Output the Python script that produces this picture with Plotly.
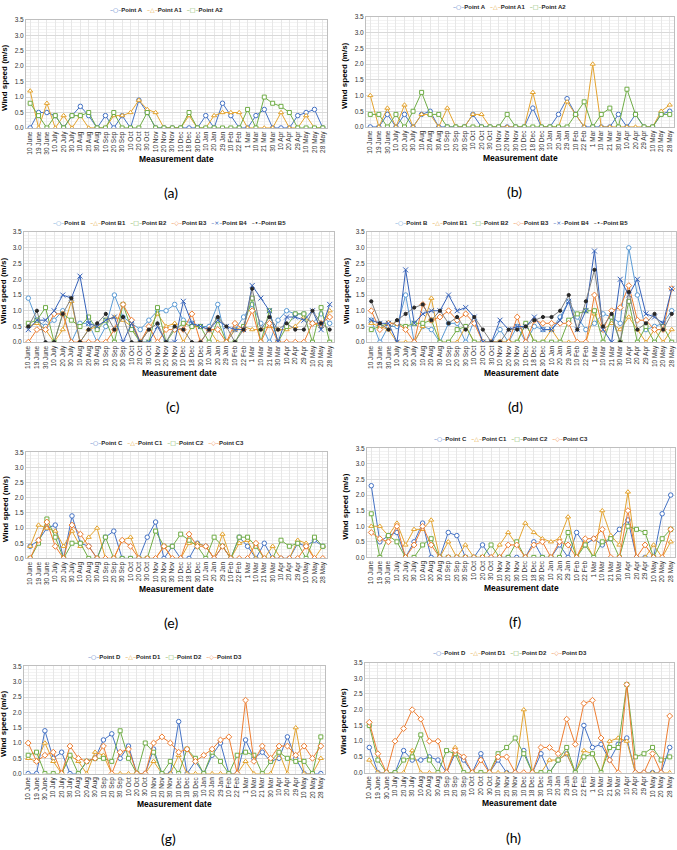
import plotly.graph_objects as go

W, H = 677, 850

dates = ["10 June", "19 June", "30 June", "10 July", "20 July", "30 July", "10 Aug", "20 Aug",
         "30 Aug", "10 Sep", "20 Sep", "30 Sep", "10 Oct", "20 Oct", "30 Oct", "10 Nov",
         "20 Nov", "30 Nov", "10 Dec", "18 Dec", "30 Dec", "10 Jan", "20 Jan", "29 Jan",
         "10 Feb", "22 Feb", "1 Mar", "10 Mar", "21 Mar", "30 Mar", "10 Apr", "20 Apr",
         "29 Apr", "10 May", "20 May", "28 May"]
y_ticks = [0.0, 0.5, 1.0, 1.5, 2.0, 2.5, 3.0, 3.5]
y_tick_labels = ["0.0", "0.5", "1.0", "1.5", "2.0", "2.5", "3.0", "3.5"]

# ---- panel (a)
a_A  = [0.0,0.5,0.5,0.4,0.0,0.4,0.7,0.4,0.0,0.4,0.0,0.4,0.0,0.9,0.5,0.0,0.0,0.0,0.0,0.0,0.0,0.4,0.0,0.8,0.4,0.0,0.0,0.4,0.6,0.0,0.0,0.0,0.4,0.5,0.6,0.0]
a_A1 = [1.2,0.0,0.8,0.0,0.4,0.0,0.4,0.0,0.0,0.0,0.4,0.4,0.5,0.9,0.6,0.5,0.0,0.0,0.0,0.4,0.0,0.0,0.4,0.5,0.5,0.5,0.0,0.0,0.0,0.0,0.5,0.0,0.0,0.4,0.0,0.0]
a_A2 = [0.8,0.4,0.0,0.4,0.0,0.4,0.4,0.5,0.0,0.0,0.5,0.0,0.0,0.0,0.5,0.0,0.0,0.0,0.0,0.5,0.0,0.0,0.0,0.0,0.0,0.0,0.6,0.0,1.0,0.8,0.7,0.5,0.0,0.0,0.0,0.0]
# ---- panel (b)
b_A  = [0.0,0.0,0.4,0.0,0.4,0.0,0.4,0.5,0.0,0.0,0.0,0.0,0.4,0.0,0.0,0.0,0.0,0.0,0.0,0.6,0.0,0.0,0.4,0.9,0.4,0.0,0.0,0.0,0.0,0.4,0.0,0.4,0.0,0.0,0.4,0.5]
b_A1 = [1.0,0.0,0.6,0.0,0.7,0.0,0.4,0.4,0.0,0.6,0.0,0.0,0.4,0.4,0.0,0.0,0.0,0.0,0.0,1.1,0.0,0.0,0.0,0.8,0.4,0.0,2.0,0.0,0.0,0.0,0.0,0.0,0.0,0.0,0.5,0.7]
b_A2 = [0.4,0.4,0.0,0.4,0.0,0.5,1.1,0.4,0.4,0.0,0.0,0.0,0.0,0.0,0.0,0.0,0.4,0.0,0.0,0.0,0.0,0.0,0.0,0.0,0.4,0.8,0.0,0.4,0.6,0.0,1.2,0.4,0.0,0.0,0.4,0.4]
# ---- panel (c)
c_B  = [1.4,0.7,0.5,0.7,1.0,0.0,0.6,0.6,0.0,0.5,1.5,0.8,0.6,0.4,0.7,1.0,1.0,1.2,0.7,0.6,0.5,0.5,1.2,0.0,0.4,0.8,1.2,0.6,0.0,0.7,1.0,0.9,0.9,0.6,0.9,0.6]
c_B1 = [0.5,0.6,0.4,0.0,0.4,1.3,0.0,0.4,0.5,0.7,0.8,0.7,0.5,0.0,0.4,0.9,0.5,0.6,0.0,0.5,0.5,0.4,0.0,0.0,0.4,0.5,0.4,0.4,0.5,0.4,0.4,0.5,0.8,0.6,0.5,1.0]
c_B2 = [0.6,0.7,1.1,0.0,0.9,0.7,0.5,0.8,0.4,0.7,0.0,1.2,0.4,0.0,0.0,1.1,0.0,0.4,0.6,0.5,0.5,0.0,0.7,0.0,0.0,0.5,1.4,0.0,1.0,0.0,0.5,0.9,0.9,0.0,1.1,0.0]
c_B3 = [0.0,0.4,0.4,0.9,0.9,0.0,0.0,0.0,0.0,0.0,0.4,1.2,0.7,0.0,0.5,0.0,0.4,0.4,0.4,0.9,0.0,0.4,0.4,0.0,0.6,0.4,1.0,0.0,0.6,0.0,0.0,0.0,0.0,0.6,0.6,0.8]
c_B4 = [0.4,0.7,0.7,1.0,1.5,1.4,2.1,0.6,0.5,0.7,0.8,0.0,0.6,0.0,0.0,0.5,0.0,0.0,1.3,0.6,0.5,0.4,0.7,0.5,0.4,0.4,1.8,1.4,1.0,0.0,0.8,0.8,0.7,1.0,0.4,1.2]
c_B5 = [0.5,1.0,0.0,0.0,0.9,1.4,0.0,0.4,0.6,0.9,0.4,0.8,0.0,0.0,0.4,0.6,0.0,0.5,0.4,0.0,0.0,0.4,0.8,0.5,0.0,0.4,1.7,0.4,0.8,0.4,0.6,0.4,0.4,1.0,0.6,0.4]
# ---- panel (d)
d_B  = [0.7,0.0,0.5,0.5,1.5,0.0,0.5,0.4,0.0,0.6,0.6,0.0,0.7,0.0,0.0,0.4,0.0,0.5,0.0,0.5,0.4,0.4,0.8,1.3,0.8,0.4,0.6,0.9,0.8,0.6,3.0,1.5,0.4,0.5,0.6,1.0]
d_B1 = [0.6,0.5,0.4,0.0,0.0,0.0,0.5,1.4,0.0,0.0,0.0,0.5,0.0,0.0,0.0,0.0,0.0,0.0,0.6,0.0,0.0,0.4,0.0,0.0,0.0,0.0,0.9,0.4,0.6,0.4,0.8,0.4,0.0,0.4,0.0,0.4]
d_B2 = [0.4,0.5,0.6,0.6,0.5,0.6,0.6,0.7,0.0,0.0,0.4,0.5,0.0,0.0,0.0,0.0,0.0,0.0,0.6,0.0,0.0,0.0,0.0,0.7,0.9,1.0,1.0,0.0,0.8,0.0,1.3,0.0,0.5,0.0,0.5,0.0]
d_B3 = [1.0,0.4,0.6,0.6,0.4,0.0,1.2,0.7,0.8,1.0,0.7,0.9,0.6,0.0,0.0,0.0,0.0,0.8,0.0,0.7,0.6,0.6,0.6,0.6,0.0,0.0,1.5,0.4,1.0,1.1,1.8,0.7,0.7,0.4,0.4,1.7]
d_B4 = [0.7,0.6,0.6,0.0,2.3,0.6,0.9,1.0,1.0,1.5,1.0,1.1,0.8,0.0,0.0,0.7,0.4,0.5,0.5,0.8,0.4,0.4,0.7,1.3,0.4,1.0,2.9,0.4,0.0,2.0,1.5,2.0,0.9,0.8,0.6,1.7]
d_B5 = [1.3,0.6,0.4,0.7,0.9,1.1,1.2,0.7,1.0,0.6,0.8,0.4,0.8,0.4,0.0,0.0,0.4,0.4,0.5,0.7,0.8,0.8,1.0,1.5,0.4,1.3,2.3,0.5,0.9,0.0,1.6,0.4,0.6,0.9,0.4,0.9]
# ---- panel (e)
e_C  = [0.4,0.6,1.0,1.1,0.0,1.4,0.5,0.4,0.0,0.7,0.9,0.0,0.0,0.0,0.7,1.2,0.0,0.4,0.0,0.0,0.5,0.4,0.0,0.4,0.0,0.7,0.4,0.0,0.5,0.0,0.0,0.0,0.5,0.4,0.6,0.4]
e_C1 = [0.4,1.1,1.0,0.9,0.4,0.9,0.4,0.7,1.0,0.0,0.0,0.6,0.7,0.0,0.0,0.0,0.4,0.0,0.0,0.5,0.5,0.4,0.0,0.8,0.0,0.5,0.6,0.0,0.0,0.4,0.0,0.0,0.6,0.5,0.0,0.4]
e_C2 = [0.0,0.5,1.3,0.7,0.0,0.5,0.5,0.0,0.0,0.7,0.0,0.0,0.0,0.0,0.0,0.9,0.4,0.4,0.8,0.6,0.4,0.0,0.7,0.4,0.0,0.7,0.7,0.4,0.0,0.0,0.6,0.4,0.5,0.0,0.7,0.4]
e_C3 = [0.0,0.6,1.2,0.4,0.0,1.1,0.8,0.4,0.0,0.0,0.0,0.6,0.4,0.0,0.0,0.0,0.4,0.0,0.0,0.8,0.4,0.4,0.0,0.4,0.0,0.0,0.0,0.5,0.0,0.0,0.0,0.0,0.0,0.4,0.0,0.0]
# ---- panel (f)
f_C  = [2.3,0.5,0.7,0.8,0.0,0.5,1.1,0.0,0.0,0.8,0.7,0.0,0.0,0.4,0.0,0.0,0.0,0.0,0.0,0.5,0.0,0.0,0.4,0.0,0.8,0.4,0.6,0.4,0.6,0.9,1.2,0.0,0.0,0.0,1.4,2.0]
f_C1 = [1.0,1.0,0.7,1.1,0.4,0.9,0.9,1.2,0.0,0.5,0.0,0.4,0.0,0.0,0.0,0.4,0.8,0.4,1.1,0.8,0.6,0.5,0.6,1.3,0.0,0.5,0.0,1.5,0.7,0.4,2.1,0.0,0.0,0.4,0.0,0.5]
f_C2 = [1.4,0.0,0.7,0.5,0.0,0.0,0.4,0.6,0.0,0.0,0.0,0.0,0.0,0.0,0.4,0.0,0.0,0.5,0.0,0.0,0.0,0.0,0.0,0.8,0.0,0.4,0.0,0.5,0.6,0.0,1.0,0.9,0.8,0.0,0.6,0.9]
f_C3 = [0.8,0.6,0.5,1.0,0.0,0.4,1.0,0.4,0.0,0.0,0.0,0.0,0.0,0.0,0.0,0.0,0.4,0.4,0.0,0.4,0.5,0.0,0.5,0.4,0.0,0.6,0.6,0.9,0.0,0.0,1.5,0.0,0.4,0.0,0.0,0.9]
# ---- panel (g)
g_D  = [0.0,0.0,1.4,0.5,0.7,0.0,0.0,0.4,0.5,1.1,1.3,0.5,0.9,0.0,0.0,0.8,0.0,0.0,1.7,0.0,0.4,0.0,0.6,1.0,0.0,0.0,1.1,0.5,0.7,0.4,0.5,1.2,0.5,0.0,0.0,0.0]
g_D1 = [0.5,0.4,1.0,0.4,0.0,0.6,0.4,0.0,0.7,0.6,0.0,0.0,0.0,0.0,0.0,0.4,0.0,0.0,0.6,0.0,0.0,0.0,0.0,0.0,0.0,0.0,0.4,0.0,0.0,0.0,0.7,0.0,1.5,0.0,0.0,0.5]
g_D2 = [0.6,0.7,0.0,0.0,0.0,0.6,0.0,0.4,0.5,0.5,0.4,1.4,0.5,0.0,1.0,0.7,0.0,0.4,0.0,0.8,0.5,0.0,0.7,0.4,0.0,0.6,0.7,0.6,0.0,0.4,0.7,0.5,0.4,0.4,0.0,1.2]
g_D3 = [1.0,0.4,0.6,0.7,0.0,0.9,0.5,0.4,0.5,0.9,0.0,0.7,0.8,0.0,0.0,1.0,1.2,1.0,0.7,0.8,0.4,0.6,0.8,1.1,1.2,0.0,2.4,0.4,0.9,0.5,0.9,0.9,0.6,0.9,0.5,0.9]
# ---- panel (h)
h_D  = [0.8,0.0,0.0,0.0,0.7,0.4,0.4,0.5,0.4,0.0,0.6,0.4,0.0,0.6,0.0,0.4,0.0,0.0,0.7,0.0,0.6,0.0,0.4,0.6,0.0,1.5,0.8,0.9,0.4,0.9,1.1,0.0,0.0,0.0,0.0,0.8]
h_D1 = [0.4,0.0,0.0,0.0,0.0,0.7,0.0,0.0,0.0,0.0,0.8,0.0,0.0,0.0,0.0,0.0,0.0,0.0,2.0,0.0,0.0,0.4,0.4,0.6,0.0,0.7,0.6,0.0,1.0,1.1,1.0,0.0,0.0,0.0,0.0,0.0]
h_D2 = [1.5,0.4,0.0,0.0,0.4,0.5,1.2,0.4,0.0,0.7,0.6,0.0,0.0,0.0,0.0,0.6,0.8,1.1,0.6,0.0,0.0,0.0,0.4,0.8,0.0,0.5,0.6,0.0,0.8,0.8,2.8,0.5,0.6,0.8,0.4,0.5]
h_D3 = [1.6,0.6,0.0,1.0,1.4,2.0,1.7,1.0,1.0,0.0,0.7,0.5,0.0,0.4,0.0,0.5,0.5,0.0,0.0,0.0,0.8,0.8,0.6,1.7,0.9,2.2,2.3,1.1,0.4,0.0,2.8,0.0,0.0,0.6,0.0,1.8]

panel_labels = ["(a)", "(b)", "(c)", "(d)", "(e)", "(f)", "(g)", "(h)"]
panel_series = [
    [("Point A", a_A), ("Point A1", a_A1), ("Point A2", a_A2)],
    [("Point A", b_A), ("Point A1", b_A1), ("Point A2", b_A2)],
    [("Point B", c_B), ("Point B1", c_B1), ("Point B2", c_B2), ("Point B3", c_B3), ("Point B4", c_B4), ("Point B5", c_B5)],
    [("Point B", d_B), ("Point B1", d_B1), ("Point B2", d_B2), ("Point B3", d_B3), ("Point B4", d_B4), ("Point B5", d_B5)],
    [("Point C", e_C), ("Point C1", e_C1), ("Point C2", e_C2), ("Point C3", e_C3)],
    [("Point C", f_C), ("Point C1", f_C1), ("Point C2", f_C2), ("Point C3", f_C3)],
    [("Point D", g_D), ("Point D1", g_D1), ("Point D2", g_D2), ("Point D3", g_D3)],
    [("Point D", h_D), ("Point D1", h_D1), ("Point D2", h_D2), ("Point D3", h_D3)],
]

# plot-area geometry in pixels: left, right, top, bottom
geom = [(26, 327, 16, 125), (366, 674, 13, 124),
        (24, 334, 230, 341), (367, 676, 230, 341),
        (26, 327, 452, 559), (367, 675, 448, 558),
        (24, 325, 668, 776), (365, 674, 664, 775)]

BLUE, GOLD, GREEN, ORANGE = "#4472C4", "#E3A32F", "#70AD47", "#ED7D31"
styles = {
    "":  dict(color=BLUE, line=BLUE, symbol="circle", glyph="○", fill="white", size=4.5),
    "1": dict(color=GOLD, line=GOLD, symbol="triangle-up", glyph="△", fill="white", size=4.5),
    "2": dict(color=GREEN, line=GREEN, symbol="square", glyph="□", fill="white", size=4),
    "3": dict(color=ORANGE, line=ORANGE, symbol="diamond", glyph="◇", fill="white", size=4.5),
    "4": dict(color="#3561B8", line="#3561B8", symbol="x-thin", glyph="×", fill="#3561B8", size=5),
    "5": dict(color="#262626", line="#7F7F7F", symbol="circle", glyph="•", fill="#262626", size=3.2),
}

FONT = "Liberation Sans, Arial, sans-serif"


def xp(px):
    return px / W


def yp(py):
    return 1 - py / H


def style_for(k, name):
    key = name[-1] if name[-1].isdigit() else ""
    st = dict(styles[key])
    if k in (2, 3) and key == "":
        st["color"] = st["line"] = "#5B9BD5"
    return st


fig = go.Figure()
annotations = []
layout_axes = {}

for k, series in enumerate(panel_series):
    L, R, T, B = geom[k]
    sfx = "" if k == 0 else str(k + 1)
    for name, vals in series:
        st = style_for(k, name)
        fig.add_trace(go.Scatter(
            x=dates, y=vals, name=name, mode="lines+markers",
            xaxis="x" + sfx, yaxis="y" + sfx, showlegend=False,
            line=dict(color=st["line"], width=1),
            marker=dict(symbol=st["symbol"], size=st["size"], color=st["fill"],
                        line=dict(color=st["color"], width=1)),
        ))

    layout_axes["xaxis" + sfx] = dict(
        domain=[xp(L), xp(R)], anchor="y" + sfx, type="category",
        categoryorder="array", categoryarray=dates, range=[-0.5, len(dates) - 0.5],
        tickangle=-90, tickfont=dict(family=FONT, size=6.5, color="#333333"),
        showgrid=True, gridcolor="#E7E7E7", gridwidth=0.5,
        showline=True, linecolor="#BFBFBF", linewidth=1, mirror=True,
        ticks="", zeroline=False, fixedrange=True,
    )
    layout_axes["yaxis" + sfx] = dict(
        domain=[yp(B), yp(T)], anchor="x" + sfx, range=[0, 3.5],
        tickvals=y_ticks, ticktext=y_tick_labels,
        tickfont=dict(family=FONT, size=6.5, color="#333333"),
        showgrid=True, gridcolor="#D9D9D9", gridwidth=0.5,
        minor=dict(dtick=0.1, showgrid=True, gridcolor="#F3F3F3", gridwidth=0.5),
        showline=True, linecolor="#BFBFBF", linewidth=1, mirror=True,
        ticks="", zeroline=False, fixedrange=True,
    )

    cx = (L + R) / 2
    annotations.append(dict(
        text="<b>Wind speed (m/s)</b>", x=xp(L - 21), y=yp((T + B) / 2 + 4),
        xref="paper", yref="paper", showarrow=False, textangle=-90,
        xanchor="center", yanchor="middle",
        font=dict(family=FONT, size=8, color="#000000")))
    annotations.append(dict(
        text="<b>Measurement date</b>", x=xp(cx), y=yp(B + 31),
        xref="paper", yref="paper", showarrow=False,
        xanchor="center", yanchor="middle",
        font=dict(family=FONT, size=8.5, color="#000000")))
    annotations.append(dict(
        text=panel_labels[k], x=xp(cx - 6), y=yp(B + 65),
        xref="paper", yref="paper", showarrow=False,
        xanchor="center", yanchor="middle",
        font=dict(family="Lato, Open Sans, sans-serif", size=14, color="#000000")))
    parts = []
    for name, _ in series:
        st = style_for(k, name)
        parts.append(
            '<span style="color:%s;font-family:DejaVu Sans;font-size:6px">–%s–</span>'
            '<b>%s</b>' % (st["color"], st["glyph"], name))
    annotations.append(dict(
        text="\u00a0\u00a0\u00a0".join(parts), x=xp(cx - 10), y=yp(T - 10),
        xref="paper", yref="paper", showarrow=False,
        xanchor="center", yanchor="middle",
        font=dict(family=FONT, size=6, color="#262626")))

fig.update_layout(
    width=W, height=H, margin=dict(l=0, r=0, t=0, b=0),
    paper_bgcolor="white", plot_bgcolor="white",
    showlegend=False, annotations=annotations, **layout_axes,
)

fig.write_html("out.html")
